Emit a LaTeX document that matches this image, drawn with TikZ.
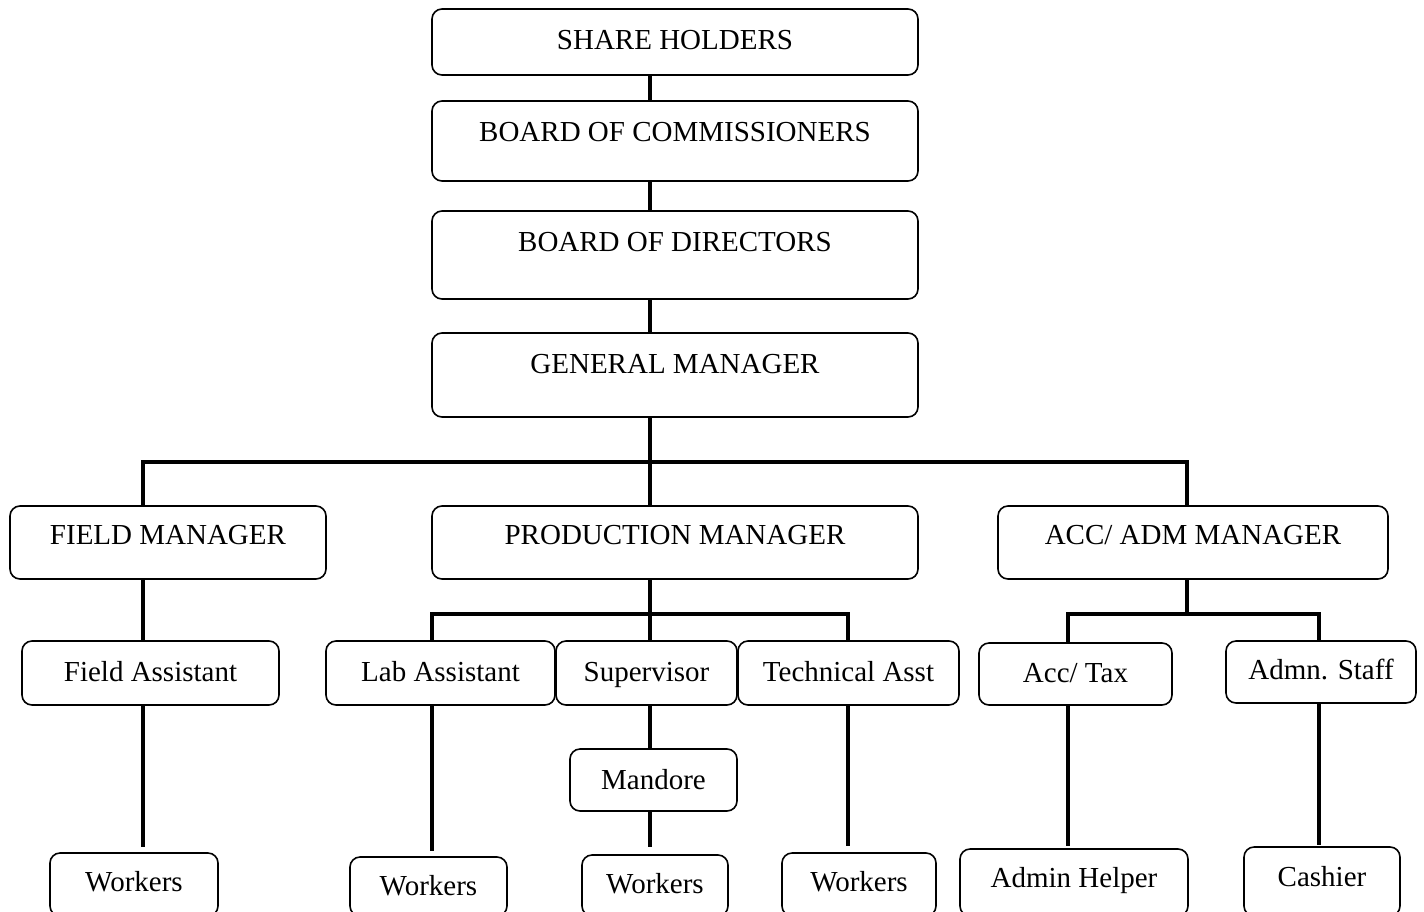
\documentclass[tikz,border=0pt]{standalone}
\usepackage{fontspec}
\setmainfont{Liberation Serif}
\tikzset{
    orgbox/.style={draw, rounded corners=10pt, line width=1.6pt, inner sep=0pt,
        font=\fontsize{29}{34}\selectfont, text height=19.2pt, text depth=#1},
    orgbox/.default=2pt,
    link/.style={line width=4pt}
}
\begin{document}
\begin{tikzpicture}[x=1pt, y=-1pt]
        % --- 描画範囲 ---
        \clip (0,0) rectangle (1424,911);

        % --- 縦線のx座標・横線のy座標 ---
        \coordinate (tx) at (650,0);
        \coordinate (fx) at (143,0);
        \coordinate (ax) at (1187,0);
        \coordinate (lx) at (432,0);
        \coordinate (kx) at (848,0);
        \coordinate (cx) at (1068,0);
        \coordinate (sx) at (1319,0);
        \coordinate (bus) at (0,461.5);
        \coordinate (sub) at (0,614);

        % --- 上位の箱 ---
        \node[orgbox=4pt, minimum width=486pt, minimum height=66pt] (share) at (675,42) {SHARE HOLDERS};
        \node[orgbox=18pt, minimum width=486pt, minimum height=80pt] (comm) at (675,141) {BOARD OF COMMISSIONERS};
        \node[orgbox=26pt, minimum width=486pt, minimum height=88pt] (dir) at (675,255) {BOARD OF DIRECTORS};
        \node[orgbox=22pt, minimum width=486pt, minimum height=84pt] (gm) at (675,375) {GENERAL MANAGER};

        % --- マネージャー ---
        \node[orgbox=15pt, minimum width=316pt, minimum height=73pt] (fm) at (168,542.5) {FIELD MANAGER};
        \node[orgbox=15pt, minimum width=486pt, minimum height=73pt] (pm) at (675,542.5) {PRODUCTION MANAGER};
        \node[orgbox=15pt, minimum width=390pt, minimum height=73pt] (am) at (1193,542.5) {ACC/ ADM MANAGER};

        % --- スタッフ ---
        \node[orgbox, minimum width=257pt, minimum height=64pt] (fa) at (150.5,673) {Field Assistant};
        \node[orgbox, minimum width=229pt, minimum height=64pt] (la) at (440.5,673) {Lab Assistant};
        \node[orgbox, minimum width=181pt, minimum height=64pt] (sv) at (646.5,673) {Supervisor};
        \node[orgbox, minimum width=221pt, minimum height=64pt] (ta) at (848.5,673) {Technical Asst};
        \node[orgbox=3pt, minimum width=193pt, minimum height=62pt] (at) at (1075.5,674) {Acc/ Tax};
        \node[orgbox=4pt, minimum width=190pt, minimum height=62pt] (as) at (1321,672) {Admn. Staff};
        \node[orgbox=0pt, minimum width=167pt, minimum height=62pt] (md) at (653.5,780) {Mandore};

        % --- 最下段 ---
        \node[orgbox=5pt, minimum width=168pt, minimum height=63pt] (w1) at (134,884.5) {Workers};
        \node[orgbox=2pt, minimum width=157pt, minimum height=59pt] (w2) at (428.5,886.5) {Workers};
        \node[orgbox=4pt, minimum width=146pt, minimum height=61pt] (w3) at (655,885.5) {Workers};
        \node[orgbox=5pt, minimum width=154pt, minimum height=63pt] (w4) at (859,884.5) {Workers};
        \node[orgbox=9pt, minimum width=228pt, minimum height=67pt] (ah) at (1074,882.5) {Admin Helper};
        \node[orgbox=9pt, minimum width=156pt, minimum height=69pt] (ca) at (1322,881.5) {Cashier};

        % --- 接続線 ---
        \draw[link] (share.south -| tx) -- (comm.north -| tx);
        \draw[link] (comm.south -| tx) -- (dir.north -| tx);
        \draw[link] (dir.south -| tx) -- (gm.north -| tx);
        \draw[link] (gm.south -| tx) -- (pm.north -| tx);
        \draw[link] (fm.north -| fx) -- (fx |- bus) -- (ax |- bus) -- (am.north -| ax);

        \draw[link] (fm.south -| fx) -- (fa.north -| fx);
        \draw[link, shorten >=5pt] (fa.south -| fx) -- (w1.north -| fx);

        \draw[link] (pm.south -| tx) -- (sv.north -| tx);
        \draw[link] (la.north -| lx) -- (lx |- sub) -- (kx |- sub) -- (ta.north -| kx);
        \draw[link, shorten >=5pt] (la.south -| lx) -- (w2.north -| lx);
        \draw[link] (sv.south -| tx) -- (md.north -| tx);
        \draw[link, shorten >=7pt] (md.south -| tx) -- (w3.north -| tx);
        \draw[link, shorten >=6pt] (ta.south -| kx) -- (w4.north -| kx);

        \draw[link] (am.south -| ax) -- (ax |- sub);
        \draw[link] (at.north -| cx) -- (cx |- sub) -- (sx |- sub) -- (as.north -| sx);
        \draw[link, shorten >=2pt] (at.south -| cx) -- (ah.north -| cx);
        \draw[link, shorten >=1pt] (as.south -| sx) -- (ca.north -| sx);
\end{tikzpicture}
\end{document}
